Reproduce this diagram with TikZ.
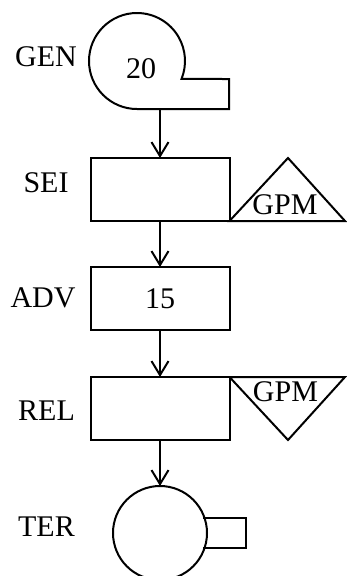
\documentclass[tikz,border=0pt]{standalone}
\usepackage{fontspec}
\setmainfont{Liberation Serif}
\usetikzlibrary{arrows.meta}

\begin{document}
\begin{tikzpicture}[x=1pt,y=-1pt,line cap=rect]
\def\flowfont{\fontsize{30pt}{30pt}\selectfont}
\definecolor{custcol_0_0_0}{RGB}{0, 0, 0}
\tikzset{
  flowbox/.style={draw, line width=2.0pt, custcol_0_0_0, minimum width=139pt, minimum height=63pt, inner sep=0, outer sep=0, font=\flowfont},
  flowlabel/.style={inner sep=0, outer sep=0, custcol_0_0_0, font=\flowfont},
  flowline/.style={line width=2.0pt, custcol_0_0_0},
  flowarrow/.style={line width=2.0pt, custcol_0_0_0, -{Straight Barb[length=14pt,width=17pt,line width=2pt]}},
}
\useasboundingbox (0,0) rectangle (347,576);
% generator
\draw [flowline] (137.0,109.0) arc (90.0:382.0:48.0) -- (229.0,79.0) -- (229.0,109.0) -- (139.0,109.0) ;
\coordinate (genout) at (160.0,109.0);
\node (genval) [flowlabel] at (141.0,69.0) {20};
\node (genlbl) [flowlabel] at (46.0,57.0) {GEN};
% boxes
\node (sei) [flowbox] at (160.0,189.5) {};
\node (seilbl) [flowlabel] at (46.0,183.0) {SEI};
\node (adv) [flowbox] at (160.0,298.5) {15};
\node (advlbl) [flowlabel] at (43.0,298.0) {ADV};
\node (rel) [flowbox] at (160.0,408.5) {};
\node (rellbl) [flowlabel] at (46.5,411.0) {REL};
% gauges
\draw [flowline] (sei.south east) -- (288.0,158.0) -- (345.0,221.0) -- cycle ;
\node (seigpm) [flowlabel] at (285.0,205.0) {GPM};
\draw [flowline] (rel.north east) -- (345.0,377.0) -- (288.0,440.0) -- cycle ;
\node (relgpm) [flowlabel] at (285.5,392.0) {GPM};
% terminal
\node (ter) [draw, circle, line width=2.0pt, custcol_0_0_0, minimum size=94pt, inner sep=0, outer sep=0] at (160.0,533.0) {};
\draw [flowline] (204.0,518.0) -- (246.0,518.0) -- (246.0,548.0) -- (204.0,548.0) ;
\node (terlbl) [flowlabel] at (46.5,527.0) {TER};
% flow
\draw [flowarrow] (genout) -- (sei.north) ;
\draw [flowarrow] (sei.south) -- (adv.north) ;
\draw [flowarrow] (adv.south) -- (rel.north) ;
\draw [flowarrow] (rel.south) -- (ter.north) ;
\end{tikzpicture}
\end{document}
